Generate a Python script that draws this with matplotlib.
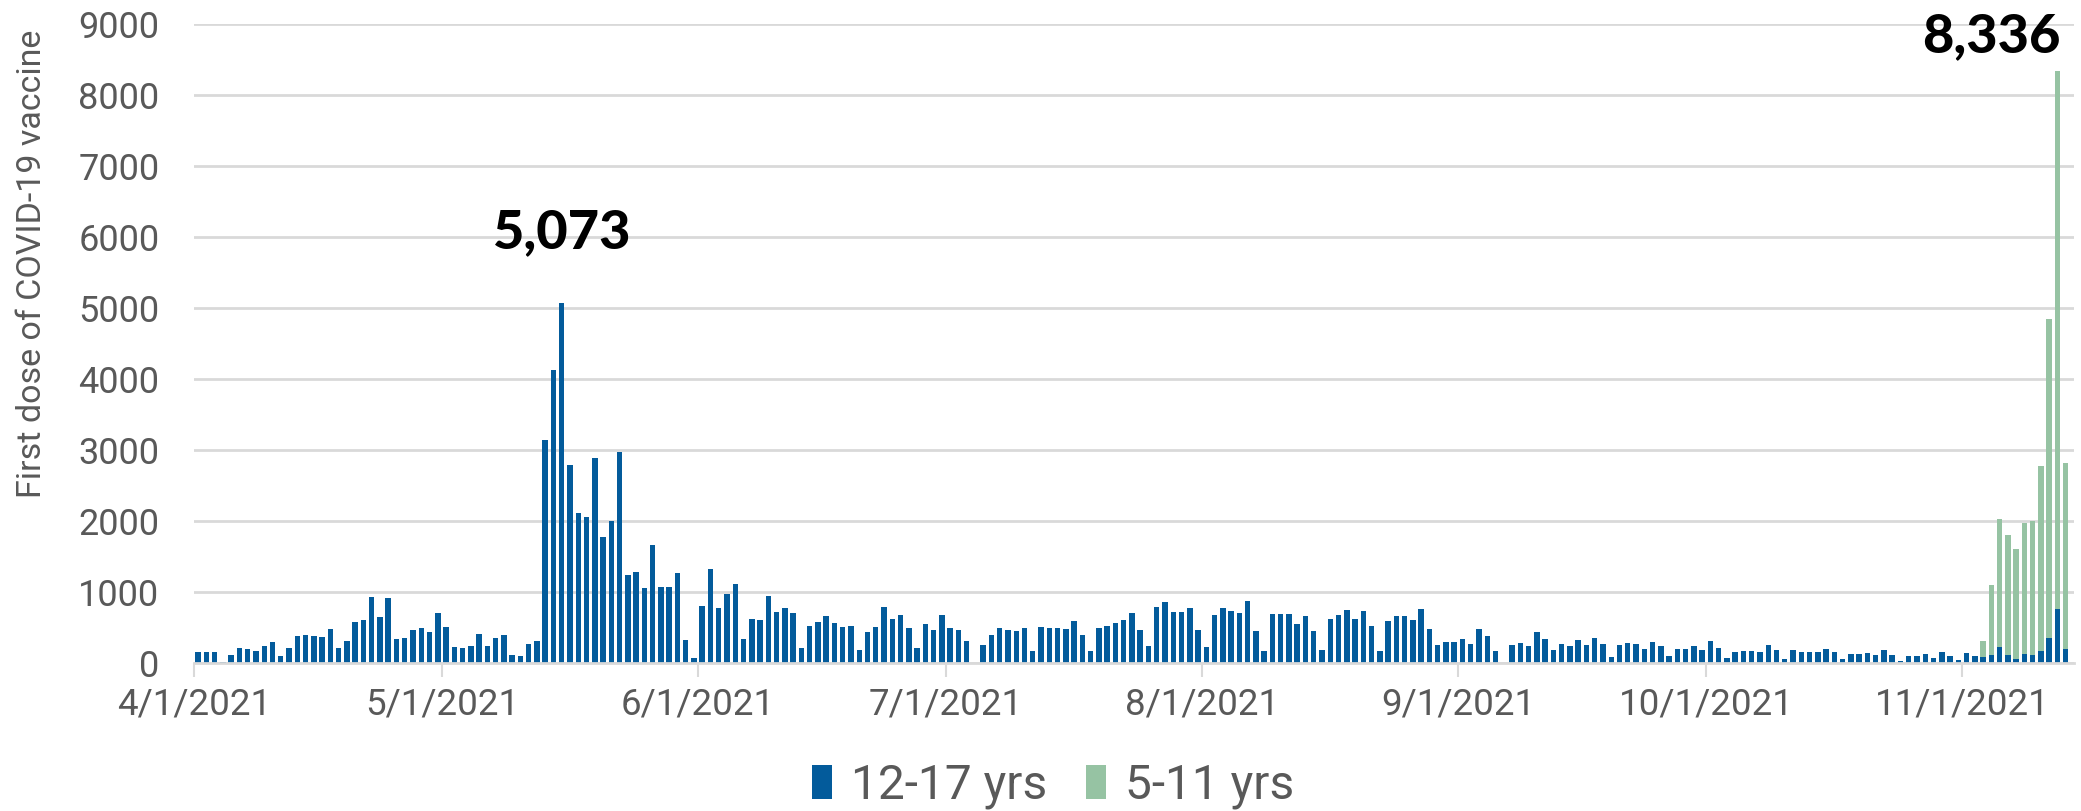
import matplotlib
matplotlib.use("Agg")
import matplotlib.pyplot as plt
import matplotlib.dates as mdates
from matplotlib.patches import Patch
import numpy as np
import pandas as pd

start_date = "2021-04-01"
n_days = 227

# 12-17 yrs, daily first doses (Apr 1 - Nov 14, 2021)
apr = [150, 150, 150, 20, 115, 205, 195, 162, 233, 290, 105, 210, 385, 395, 376,
       371, 476, 214, 314, 581, 600, 933, 643, 919, 338, 348, 471, 500, 433, 705]
may = [514, 229, 214, 243, 414, 243, 357, 400, 110, 105, 265, 305, 3145, 4131, 5073,
       2784, 2113, 2061, 2887, 1775, 2005, 2977, 1239, 1282, 1061, 1662, 1070, 1070,
       1272, 319, 70]
jun = [798, 1319, 775, 967, 1113, 343, 620, 606, 939, 718, 775, 709, 216, 515, 572,
       660, 566, 514, 528, 184, 439, 514, 792, 613, 670, 486, 212, 552, 467, 675]
jul = [486, 467, 307, 5, 250, 396, 495, 467, 448, 486, 175, 509, 500, 500, 476,
       590, 396, 170, 500, 528, 566, 608, 708, 467, 236, 783, 854, 717, 722, 769, 458]
aug = [226, 670, 769, 736, 698, 877, 448, 175, 689, 693, 689, 547, 656, 453, 189,
       623, 670, 741, 613, 726, 524, 175, 594, 656, 656, 599, 755, 472, 250, 302, 292]
sep = [340, 274, 472, 382, 165, 5, 259, 278, 236, 434, 344, 179, 269, 245, 325,
       259, 358, 274, 85, 259, 278, 274, 193, 297, 240, 94, 193, 193, 236, 189]
oct_ = [307, 212, 75, 156, 175, 175, 151, 259, 184, 61, 184, 151, 160, 160, 198,
        156, 57, 132, 125, 139, 118, 179, 118, 33, 104, 94, 127, 71, 160, 99, 38]
nov = [146, 101, 80, 108, 221, 108, 50, 120, 117, 176, 359, 756, 192]
teens_12_17 = apr + may + jun + jul + aug + sep + oct_ + nov

# 5-11 yrs, daily first doses (zero before Nov 3)
kids_nov = [0, 0, 235, 991, 1812, 1690, 1558, 1850, 1883, 2601, 4493, 7580, 2630]
kids_5_11 = [0] * (n_days - len(kids_nov)) + kids_nov

series_labels = ["12-17 yrs", "5-11 yrs"]
peak_labels = ["5,073", "8,336"]
y_ticks = [0, 1000, 2000, 3000, 4000, 5000, 6000, 7000, 8000, 9000]
x_tick_dates = ["2021-04-01", "2021-05-01", "2021-06-01", "2021-07-01",
                "2021-08-01", "2021-09-01", "2021-10-01", "2021-11-01"]

BLUE = "#035b9b"
GREEN = "#96c3a3"
GRID = "#d9d9d9"
TXT = "#595959"

dates = pd.date_range(start_date, periods=n_days, freq="D")
x = mdates.date2num(dates) + 0.5
teens = np.array(teens_12_17)
kids = np.array(kids_5_11)

fig = plt.figure(figsize=(20.81, 8.11), dpi=100)
ax = fig.add_axes([194 / 2081, 148 / 811, (2074 - 194) / 2081, 639 / 811])

ax.bar(x, teens, width=0.66, color=BLUE, zorder=3)
ax.bar(x, kids, bottom=teens, width=0.66, color=GREEN, zorder=3)

ax.set_ylim(0, 9000)
ax.set_xlim(mdates.date2num(dates[0]), mdates.date2num(dates[0]) + n_days + 0.5)
ax.set_yticks(y_ticks)
ax.set_yticklabels([str(v) for v in y_ticks], fontsize=26, color=TXT, family="Roboto")
ax.yaxis.grid(True, color=GRID, linewidth=2, zorder=0)
ax.tick_params(axis="y", length=0, pad=25)

xt = mdates.date2num(pd.to_datetime(x_tick_dates))
ax.set_xticks(xt)
ax.set_xticklabels([f"{d.month}/{d.day}/{d.year}" for d in pd.to_datetime(x_tick_dates)],
                   fontsize=26.5, color=TXT, family="Roboto")
ax.tick_params(axis="x", length=10, width=1.5, color=GRID, pad=7)

for s in ["top", "right", "left"]:
    ax.spines[s].set_visible(False)
ax.spines["bottom"].set_color(GRID)
ax.spines["bottom"].set_linewidth(2)
ax.spines["bottom"].set_zorder(4)

ax.set_ylabel("First dose of COVID-19 vaccine", fontsize=24.5, color=TXT, family="Roboto")
ax.yaxis.set_label_coords(-0.0775, 0.625)

# peak annotations
i1 = int(np.argmax(teens))
tot = teens + kids
i2 = int(np.argmax(tot))
ax.annotate(peak_labels[0], xy=(x[i1], tot[i1]), xytext=(0, 70),
            textcoords="offset pixels", ha="center", va="center",
            fontsize=39, fontweight=900, family="Lato", color="black")
ax.annotate(peak_labels[1], xy=(x[i2], tot[i2]), xytext=(-66, 34),
            textcoords="offset pixels", ha="center", va="center",
            fontsize=39, fontweight=900, family="Lato", color="black",
            annotation_clip=False)

handles = [Patch(facecolor=BLUE), Patch(facecolor=GREEN)]
leg = fig.legend(handles, series_labels, loc="center", bbox_to_anchor=(1053 / 2081, 25 / 811),
                 ncol=2, frameon=False, prop={"family": "Roboto", "size": 34.5},
                 handlelength=0.42, handleheight=0.72, handletextpad=0.4,
                 columnspacing=0.8, borderpad=0)
for t in leg.get_texts():
    t.set_color(TXT)

fig.savefig("out.png", dpi=100)
